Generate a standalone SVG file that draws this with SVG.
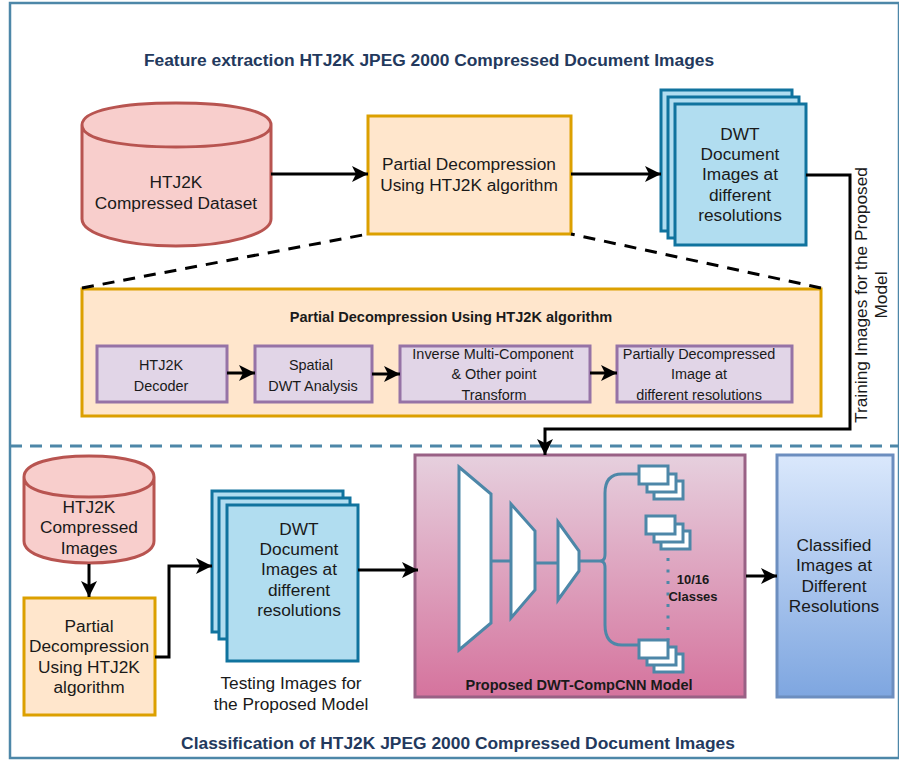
<svg xmlns="http://www.w3.org/2000/svg" width="899" height="760" viewBox="0 0 899 760">
<style>
text{font-family:"Liberation Sans",Arial,sans-serif;fill:#1a1a1a;text-anchor:middle}
.t16{font-size:17.3px}
.t14{font-size:14.45px}
.t13{font-size:13px}
.b14{font-size:14.55px;font-weight:bold}
.title{font-size:17.4px;font-weight:bold;fill:#23395d}
.red{fill:#f8cecc;stroke:#b85450;stroke-width:3}
.org{fill:#ffe6cc;stroke:#dca000;stroke-width:3}
.pur{fill:#e1d5e7;stroke:#9673a6;stroke-width:3}
.blu{fill:#b1ddf0;stroke:#10739e;stroke-width:3}
.net{fill:#fff;stroke:#4d87a8;stroke-width:3}
.c{fill:none;stroke:#000;stroke-width:3}
.d{fill:none;stroke:#000;stroke-width:3;stroke-dasharray:12 9}
.n{fill:none;stroke:#4d87a8;stroke-width:3}
</style>
<defs>
<marker id="a" markerUnits="userSpaceOnUse" markerWidth="18" markerHeight="18" refX="16" refY="8" orient="auto"><path d="M0 0L16 8L0 16L4 8Z" fill="#000"/></marker>
<linearGradient id="gp" x1="0" y1="0" x2="0" y2="1"><stop offset="0" stop-color="#e6d0de"/><stop offset="1" stop-color="#d5739d"/></linearGradient>
<linearGradient id="gb" x1="0" y1="0" x2="0" y2="1"><stop offset="0" stop-color="#dae8fc"/><stop offset="1" stop-color="#7ea6e0"/></linearGradient>
</defs>
<rect x="10" y="3" width="889" height="755" fill="#fff" stroke="#4d87a8" stroke-width="2.5"/>
<text class="title" x="429" y="66">Feature extraction HTJ2K JPEG 2000 Compressed Document Images</text>
<text class="title" x="458" y="749">Classification of HTJ2K JPEG 2000 Compressed Document Images</text>
<path d="M10 446H899" fill="none" stroke="#4d87a8" stroke-width="3" stroke-dasharray="12 8"/>

<g id="dataset">
<path class="red" d="M82 125V219C82 234 124 246 176 246S271 234 271 219V125C271 110 229 103 176 103S82 110 82 125C82 140 124 147 176 147S271 140 271 125"/>
<text class="t16"><tspan x="176" y="188">HTJ2K</tspan><tspan x="176" y="209">Compressed Dataset</tspan></text>
</g>
<g id="partial-top">
<rect class="org" x="368" y="116" width="203" height="118"/>
<text class="t16"><tspan x="469" y="170">Partial Decompression</tspan><tspan x="469" y="191">Using HTJ2K algorithm</tspan></text>
</g>
<g id="dwt-top">
<rect class="blu" x="661" y="90" width="131" height="141"/>
<rect class="blu" x="668" y="97" width="131" height="141"/>
<rect class="blu" x="675" y="104" width="131" height="141"/>
<text class="t16"><tspan x="740" y="140">DWT</tspan><tspan x="740" y="160">Document</tspan><tspan x="740" y="180">Images at</tspan><tspan x="740" y="201">different</tspan><tspan x="740" y="221">resolutions</tspan></text>
</g>
<g id="training-label">
<text class="t16" transform="translate(867 295) rotate(-90)"><tspan x="0" y="0">Training Images for the Proposed</tspan><tspan x="0" y="20">Model</tspan></text>
</g>
<g id="partial-panel">
<rect class="org" x="82" y="289" width="739" height="127"/>
<text class="b14" x="451" y="322">Partial Decompression Using HTJ2K algorithm</text>
</g>
<g id="decoder">
<rect class="pur" x="97" y="346" width="130" height="56"/>
<text class="t14"><tspan x="161" y="370">HTJ2K</tspan><tspan x="161" y="391">Decoder</tspan></text>
</g>
<g id="spatial">
<rect class="pur" x="255" y="346" width="117" height="56"/>
<text class="t14"><tspan x="311" y="370">Spatial</tspan><tspan x="313" y="391">DWT Analysis</tspan></text>
</g>
<g id="inverse">
<rect class="pur" x="400" y="346" width="190" height="56"/>
<text class="t14"><tspan x="493" y="359">Inverse Multi-Component</tspan><tspan x="494" y="379">&amp; Other point</tspan><tspan x="494" y="400">Transform</tspan></text>
</g>
<g id="partial-image">
<rect class="pur" x="617" y="346" width="175" height="56"/>
<text class="t14"><tspan x="699" y="359">Partially Decompressed</tspan><tspan x="699" y="379">Image at</tspan><tspan x="699" y="400">different resolutions</tspan></text>
</g>

<g id="compressed-images">
<path class="red" d="M24 477V541C24 555 53 563 89 563S154 555 154 541V477C154 463 125 456 89 456S24 463 24 477C24 491 53 497 89 497S154 491 154 477"/>
<text class="t16"><tspan x="89" y="513">HTJ2K</tspan><tspan x="89" y="533">Compressed</tspan><tspan x="89" y="554">Images</tspan></text>
</g>
<g id="partial-bottom">
<rect class="org" x="24" y="598" width="131" height="117"/>
<text class="t16"><tspan x="89" y="632">Partial</tspan><tspan x="89" y="652">Decompression</tspan><tspan x="89" y="673">Using HTJ2K</tspan><tspan x="89" y="693">algorithm</tspan></text>
</g>
<g id="dwt-bottom">
<rect class="blu" x="212" y="491" width="131" height="141"/>
<rect class="blu" x="219" y="498" width="131" height="141"/>
<rect class="blu" x="227" y="505" width="131" height="156"/>
<text class="t16"><tspan x="299" y="535">DWT</tspan><tspan x="299" y="555">Document</tspan><tspan x="299" y="575">Images at</tspan><tspan x="299" y="596">different</tspan><tspan x="299" y="616">resolutions</tspan></text>
</g>
<g id="testing-label">
<text class="t16"><tspan x="291" y="689">Testing Images for</tspan><tspan x="291" y="710">the Proposed Model</tspan></text>
</g>
<g id="model">
<rect x="415" y="455" width="330" height="242" fill="url(#gp)" stroke="#996185" stroke-width="3"/>
<path class="n" d="M491 561H510M535 563H558M579 561H600M600 561C606 561 605 555 605 549V493C605 481 610 474 622 474H639M600 561C606 561 605 567 605 573V625C605 637 610 645 622 645H639"/>
<path class="net" d="M459 467L491 494V623L459 650Z"/>
<path class="net" d="M511 504L535 531V590L511 618Z"/>
<path class="net" d="M558 522L579 551V571L558 600Z"/>
<g><rect class="net" x="654" y="481" width="29" height="18"/><rect class="net" x="647" y="474" width="29" height="18"/><rect class="net" x="639" y="466" width="29" height="18"/></g>
<g><rect class="net" x="661" y="531" width="29" height="18"/><rect class="net" x="654" y="524" width="29" height="18"/><rect class="net" x="646" y="516" width="29" height="18"/></g>
<g><rect class="net" x="654" y="654" width="29" height="18"/><rect class="net" x="647" y="647" width="29" height="18"/><rect class="net" x="639" y="640" width="29" height="18"/></g>
<path d="M668 558V640" fill="none" stroke="#4d87a8" stroke-width="3" stroke-dasharray="3 8.5"/>
<text class="t13" font-weight="bold"><tspan x="693" y="584">10/16</tspan><tspan x="693" y="601">Classes</tspan></text>
<text class="b14" x="579" y="690">Proposed DWT-CompCNN Model</text>
</g>
<g id="classified">
<rect x="777" y="455" width="116" height="242" fill="url(#gb)" stroke="#6c8ebf" stroke-width="3"/>
<text class="t16"><tspan x="834" y="551">Classified</tspan><tspan x="834" y="571">Images at</tspan><tspan x="834" y="592">Different</tspan><tspan x="834" y="612">Resolutions</tspan></text>
</g>

<g id="connectors">
<path class="d" d="M82 288L368 234"/>
<path class="d" d="M821 288L571 234"/>
<path class="c" marker-end="url(#a)" d="M271 174H368"/>
<path class="c" marker-end="url(#a)" d="M571 174H661"/>
<path class="c" marker-end="url(#a)" d="M806 175H850V429H545V455"/>
<path class="c" marker-end="url(#a)" d="M227 373H255"/>
<path class="c" marker-end="url(#a)" d="M372 374H400"/>
<path class="c" marker-end="url(#a)" d="M590 373H617"/>
<path class="c" marker-end="url(#a)" d="M89 564V597"/>
<path class="c" marker-end="url(#a)" d="M155 657H169V566H212"/>
<path class="c" marker-end="url(#a)" d="M358 570H418"/>
<path class="c" marker-end="url(#a)" d="M746 576H777"/>
</g>
</svg>
